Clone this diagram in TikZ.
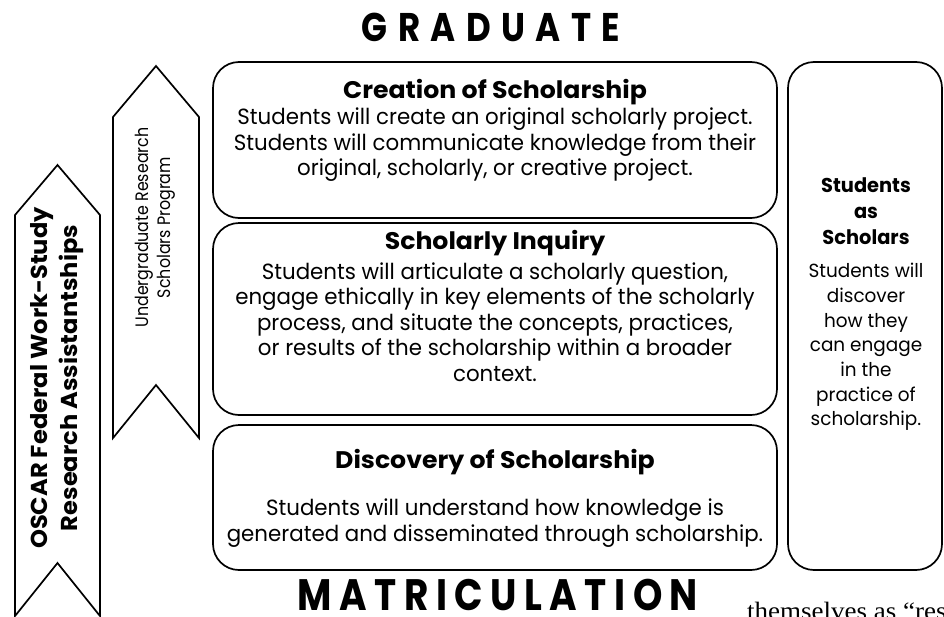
\documentclass[tikz,border=0pt]{standalone}
\usepackage{fontspec}
\setmainfont{Poppins}
\newfontfamily\headfont[LetterSpace=17,FakeStretch=0.85]{Poppins}
\newfontfamily\gradfont[LetterSpace=26,FakeStretch=0.85]{Poppins}
\newfontfamily\wideface[FakeStretch=1.05]{Poppins}
\newfontfamily\narrowface[FakeStretch=0.88]{Poppins}
\newfontfamily\bodyface[FakeStretch=0.97]{Poppins}
\newfontfamily\bookfont[FakeStretch=1.08]{Liberation Serif}
\usepackage{tikz}
\usetikzlibrary{positioning}

\begin{document}
\begin{tikzpicture}[x=1pt, y=-1pt,
    stage/.style={draw, line width=1.7pt, rounded corners=26pt},
    band/.style={draw, line width=1.7pt, line join=miter},
    head/.style={font=\headfont\bfseries\fontsize{44}{44}\selectfont, inner sep=0pt},
    title/.style={font=\wideface\bfseries\fontsize{24}{26}\selectfont, align=center, inner sep=0pt},
    body/.style={font=\bodyface\fontsize{22}{25.5}\selectfont, align=center, inner sep=0pt}]
    \useasboundingbox (0,0) rectangle (944,616);
    \clip (0,0) rectangle (944,616);

    % levels
    \node[head, font=\gradfont\bfseries\fontsize{40}{40}\selectfont] (graduate) at (491,27.5) {GRADUATE};
    \node[head] (matric) at (498,594.5) {MATRICULATION};

    % program arrows
    \draw[band] (15,616) -- (15,215) -- (57.5,165) -- (100,215) -- (100,616) -- (57.5,563) -- cycle;
    \node[rotate=90, align=center, inner sep=0pt, font=\wideface\bfseries\fontsize{23}{30}\selectfont] (oscar) at (57.5,378)
        {OSCAR Federal Work-Study\\Research Assistantships};
    \draw[band] (113,438) -- (113,117) -- (156,66) -- (199,117) -- (199,438) -- (156,385) -- cycle;
    \node[rotate=90, align=center, inner sep=0pt, font=\narrowface\fontsize{18}{22}\selectfont] (urs) at (155,227.5)
        {Undergraduate Research\\Scholars Program};

    % outcome boxes
    \node[stage, minimum width=564pt, minimum height=156pt] (creation) at (495,140) {};
    \node[stage, minimum width=564pt, minimum height=192pt] (inquiry) at (495,319) {};
    \node[stage, minimum width=564pt, minimum height=145pt] (discovery) at (495,497.5) {};
    \node[stage, minimum width=154pt, minimum height=508pt] (scholars) at (865,316) {};

    \node[title] (creationT) at (495,92) {Creation of Scholarship};
    \node[body] (creationB) at (495,145) {Students will create an original scholarly project.\\
        Students will communicate knowledge from their\\original, scholarly, or creative project.};

    \node[title] (inquiryT) at (495,243) {Scholarly Inquiry};
    \node[body] (inquiryB) at (495,322) {Students will articulate a scholarly question,\\
        engage ethically in key elements of the scholarly\\
        process, and situate the concepts, practices,\\
        or results of the scholarship within a broader\\context.};

    \node[title] (discoveryT) at (495,462) {Discovery of Scholarship};
    \node[body] (discoveryB) at (495,523) {Students will understand how knowledge is\\
        generated and disseminated through scholarship.};

    \node[title, font=\bodyface\bfseries\fontsize{20}{26}\selectfont] (scholarsT) at (866,211) {Students\\as\\Scholars};
    \node[body, font=\bodyface\fontsize{19}{24.7}\selectfont] (scholarsB) at (866,347) {Students will\\discover\\how they\\can engage\\in the\\practice of\\scholarship.};

    % running text of the page
    \node[anchor=base west, inner sep=0pt, font=\bookfont\fontsize{25}{25}\selectfont] (pagetext) at (747,619) {themselves as “res};
\end{tikzpicture}
\end{document}
